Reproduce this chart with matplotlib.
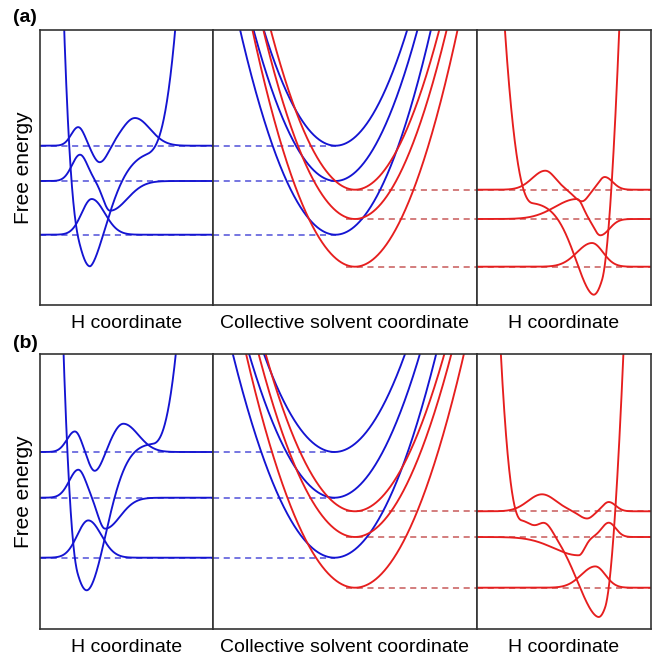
import numpy as np
import matplotlib
matplotlib.use('Agg')
import matplotlib.pyplot as plt

plt.rcParams['font.family'] = ['Liberation Sans', 'DejaVu Sans']

BLUE = '#1414d2'
RED = '#e61e1e'
BLUE_DASH = '#4f4fd8'
RED_DASH = '#c85a5a'

# ---------------- data ----------------
# Row (a)
a_blue_levels = [70.3, 124.0, 159.3]
a_red_levels = [38.3, 86.0, 115.3]
a_blue_min_x = 122.5
a_red_min_x = 142.0
a_curvature = 0.0225

a_left_well = [50.0, 38.7, 155.0]                  # x0, minimum, plateau
a_left_shape = [22.4, 2.0, 27.0, 1.6]               # width/power left, width/power right
a_left_walls = [40.0, 0.0877, 2.7, 105.0, 0.00865, 2.8]
a_left_bumps = []
a_left_lobes = [[(51.7, 35.7, 10, 13)],
                [(40.0, 26.3, 8, 7.5), (70.0, -29.7, 7, 17)],
                [(38.3, 18.7, 7, 6.5), (60.0, -17.3, 7, 8), (95.0, 27.7, 13, 15)]]

a_right_well = [116.7, 10.3, 103.0]
a_right_shape = [27.0, 1.8, 20.0, 2.0]
a_right_walls = [56.0, 0.0575, 2.4, 125.0, 0.64, 2.0]
a_right_bumps = []
a_right_lobes = [[(115.0, 23.7, 15, 11)],
                 [(100.0, 20.0, 22, 6), (123.3, -16.3, 6, 9)],
                 [(68.3, 19.0, 13, 10), (105.0, -11.6, 8, 6), (127.7, 12.7, 6, 8)]]

# Row (b)
b_blue_levels = [71.3, 131.3, 177.0]
b_red_levels = [41.3, 92.0, 117.7]
b_blue_min_x = 121.5
b_red_min_x = 142.0
b_curvature = 0.0197

b_left_well = [46.7, 38.7, 186.0]
b_left_shape = [26.0, 2.0, 28.0, 1.9]
b_left_walls = [38.0, 0.336, 2.3, 112.0, 0.0322, 2.5]
b_left_bumps = []
b_left_lobes = [[(48.3, 37.3, 11, 13)],
                [(38.3, 28.0, 9, 7.5), (65.0, -31.0, 7, 15)],
                [(35.0, 20.7, 8, 6.5), (55.0, -20.0, 6.5, 8), (83.3, 28.3, 11, 15)]]

b_right_well = [121.7, 12.0, 110.0]
b_right_shape = [33.0, 1.8, 20.0, 2.0]
b_right_walls = [45.0, 0.109, 2.4, 128.0, 0.55, 2.0]
b_right_bumps = [(57.0, -3.5, 6.0), (69.0, 5.5, 6.0)]
b_right_lobes = [[(118.3, 21.3, 14, 10)],
                 [(101.7, -18.3, 25, 6), (131.7, 14.3, 7, 7)],
                 [(65.0, 17.0, 14, 14), (110.0, -7.3, 8, 6), (131.7, 9.3, 6, 7)]]

x_label_h = 'H coordinate'
x_label_s = 'Collective solvent coordinate'
y_label = 'Free energy'
row_tags = ['(a)', '(b)']

# ---------------- helpers ----------------
def potential(x, well, shape, walls, bumps):
    x0, vmin, vplat = well
    wl, pl, wr, pr = shape
    xl, cl, nl, xr, cr, nr = walls
    dx = x - x0
    w = np.where(dx < 0, wl, wr)
    pw = np.where(dx < 0, pl, pr)
    v = vmin + (vplat - vmin) * (1 - np.exp(-(np.abs(dx) / w) ** pw))
    v = v + cl * np.clip(xl - x, 0, None) ** nl
    v = v + cr * np.clip(x - xr, 0, None) ** nr
    for c, a, s in bumps:
        v = v + a * np.exp(-(x - c) ** 2 / (2 * s ** 2))
    return v


def wavefunction(x, lobes):
    psi = np.zeros_like(x)
    for c, a, sl, sr in lobes:
        s = np.where(x < c, sl, sr)
        psi = psi + a * np.exp(-(x - c) ** 2 / (2 * s ** 2))
    return psi


# ---------------- layout ----------------
W, H = 658, 662
fig = plt.figure(figsize=(W / 100, H / 100), dpi=100)

cols = [40, 213, 477, 651]
rows = [(30, 305), (354, 629)]
tag_y = [18, 343]
YMAX = 275
XW = [cols[1] - cols[0], cols[2] - cols[1], cols[3] - cols[2]]


def make_ax(c, r):
    x0, x1 = cols[c], cols[c + 1]
    yt, yb = rows[r]
    ax = fig.add_axes([x0 / W, 1 - yb / H, (x1 - x0) / W, (yb - yt) / H])
    ax.set_xlim(0, x1 - x0)
    ax.set_ylim(0, YMAX)
    ax.set_xticks([])
    ax.set_yticks([])
    for sp in ax.spines.values():
        sp.set_linewidth(1.2)
        sp.set_color('#333333')
    return ax


LW = 1.35
DLW = 1.1
DASH = (0, (4, 3))

row_data = [
    dict(blue=a_blue_levels, red=a_red_levels, bx=a_blue_min_x, rx=a_red_min_x, k=a_curvature,
         lw_=a_left_well, ls=a_left_shape, lwall=a_left_walls, lb=a_left_bumps, llobes=a_left_lobes,
         rw=a_right_well, rs=a_right_shape, rwall=a_right_walls, rb=a_right_bumps, rlobes=a_right_lobes),
    dict(blue=b_blue_levels, red=b_red_levels, bx=b_blue_min_x, rx=b_red_min_x, k=b_curvature,
         lw_=b_left_well, ls=b_left_shape, lwall=b_left_walls, lb=b_left_bumps, llobes=b_left_lobes,
         rw=b_right_well, rs=b_right_shape, rwall=b_right_walls, rb=b_right_bumps, rlobes=b_right_lobes),
]

for r, d in enumerate(row_data):
    # left: proton potential and vibrational states (blue)
    axl = make_ax(0, r)
    x = np.linspace(0, XW[0], 1200)
    for lev in d['blue']:
        axl.plot([0, XW[0]], [lev, lev], color=BLUE_DASH, lw=DLW, ls=DASH)
    for lev, lobes in zip(d['blue'], d['llobes']):
        axl.plot(x, lev + wavefunction(x, lobes), color=BLUE, lw=LW)
    axl.plot(x, potential(x, d['lw_'], d['ls'], d['lwall'], d['lb']), color=BLUE, lw=LW)
    axl.set_ylabel(y_label, fontsize=15, labelpad=5)
    axl.set_xlabel(x_label_h, fontsize=14, labelpad=7)

    # middle: parabolas vs solvent coordinate
    axm = make_ax(1, r)
    xm = np.linspace(0, XW[1], 1200)
    for lev in d['blue']:
        axm.plot([0, d['bx']], [lev, lev], color=BLUE_DASH, lw=DLW, ls=DASH)
    for lev in d['red']:
        axm.plot([d['rx'] - 9, XW[1]], [lev, lev], color=RED_DASH, lw=DLW, ls=DASH)
    for lev in d['blue']:
        axm.plot(xm, lev + d['k'] * (xm - d['bx']) ** 2, color=BLUE, lw=LW)
    for lev in d['red']:
        axm.plot(xm, lev + d['k'] * (xm - d['rx']) ** 2, color=RED, lw=LW)
    axm.set_xlabel(x_label_s, fontsize=14, labelpad=7)

    # right: proton potential and vibrational states (red)
    axr = make_ax(2, r)
    x = np.linspace(0, XW[2], 1200)
    for lev in d['red']:
        axr.plot([0, XW[2]], [lev, lev], color=RED_DASH, lw=DLW, ls=DASH)
    for lev, lobes in zip(d['red'], d['rlobes']):
        axr.plot(x, lev + wavefunction(x, lobes), color=RED, lw=LW)
    axr.plot(x, potential(x, d['rw'], d['rs'], d['rwall'], d['rb']), color=RED, lw=LW)
    axr.set_xlabel(x_label_h, fontsize=14, labelpad=7)

    fig.text(13 / W, 1 - tag_y[r] / H, row_tags[r], fontsize=14,
             fontweight='bold', ha='left', va='center')

fig.savefig('out.png', dpi=100)
